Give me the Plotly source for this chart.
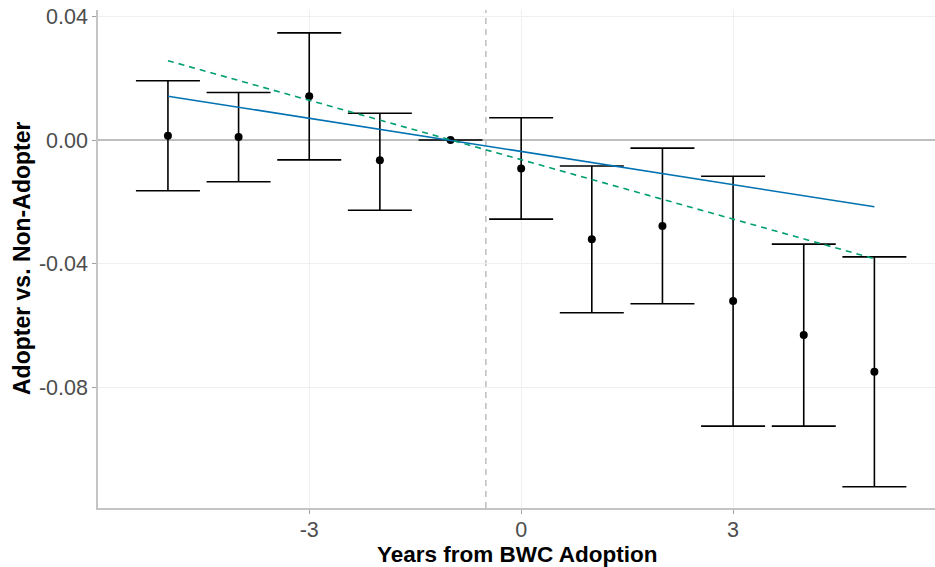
import plotly.graph_objects as go

years = [-5, -4, -3, -2, -1, 0, 1, 2, 3, 4, 5]
estimate = [0.0014, 0.0010, 0.0142, -0.0065, 0.0, -0.0092, -0.0321, -0.0278, -0.0521, -0.0631, -0.0750]
ci_upper = [0.0192, 0.0154, 0.0347, 0.0087, 0.0, 0.0072, -0.0084, -0.0026, -0.0117, -0.0337, -0.0378]
ci_lower = [-0.0164, -0.0135, -0.0064, -0.0227, 0.0, -0.0256, -0.0559, -0.0530, -0.0926, -0.0926, -0.1122]

trend_x = [-5, 5]
trend_linear = [0.0142, -0.0216]
trend_dashed = [0.0257, -0.0384]

x_ticks = [-3, 0, 3]
x_ticktext = ["-3", "0", "3"]
y_ticks = [0.04, 0.0, -0.04, -0.08]
y_ticktext = ["0.04", "0.00", "-0.04", "-0.08"]

err_plus = [u - e for u, e in zip(ci_upper, estimate)]
err_minus = [e - l for e, l in zip(estimate, ci_lower)]

fig = go.Figure()
fig.add_trace(go.Scatter(
    x=years, y=estimate, mode="markers",
    marker=dict(color="black", size=8),
    error_y=dict(type="data", symmetric=False, array=err_plus, arrayminus=err_minus,
                 color="black", thickness=1.6, width=32),
    showlegend=False, hoverinfo="skip",
))
fig.add_trace(go.Scatter(
    x=trend_x, y=trend_linear, mode="lines",
    line=dict(color="#0072B2", width=1.6), showlegend=False,
))
fig.add_trace(go.Scatter(
    x=trend_x, y=trend_dashed, mode="lines",
    line=dict(color="#009E73", width=1.6, dash="6px,5px"), showlegend=False,
))

fig.add_shape(type="line", xref="x", yref="paper", x0=-0.5, x1=-0.5, y0=0, y1=1,
              line=dict(color="#bebebe", width=1.5, dash="6px,5px"), layer="below")

font_family = "Liberation Sans, Arial, sans-serif"
fig.update_layout(
    width=935, height=567,
    margin=dict(l=98, r=0, t=10, b=59),
    paper_bgcolor="white", plot_bgcolor="white",
    font=dict(family=font_family),
    showlegend=False,
)
fig.add_annotation(
    text="<b>Adopter vs. Non-Adopter</b>", xref="paper", yref="paper",
    x=0, y=0.5, xanchor="center", yanchor="middle", xshift=-76, textangle=-90,
    showarrow=False, font=dict(size=23, color="black", family=font_family),
)
fig.add_annotation(
    text="<b>Years from BWC Adoption</b>", xref="paper", yref="paper",
    x=0.5, y=0, xanchor="center", yanchor="middle", yshift=-46, borderpad=0,
    showarrow=False, font=dict(size=22.5, color="black", family=font_family),
)
fig.update_xaxes(
    range=[-5.99, 5.858], tickvals=x_ticks, ticktext=x_ticktext,
    ticks="outside", ticklen=4, tickwidth=1, tickcolor="#a0a0a0",
    tickfont=dict(size=21.5, color="#4d4d4d", family=font_family),
    ticklabelstandoff=-3,
    showgrid=True, gridcolor="#efefef", gridwidth=1,
    zeroline=False,
    showline=True, linecolor="#c4c4c4", linewidth=1.5,
    automargin=False,
)
fig.update_yaxes(
    range=[-0.1191, 0.0421], tickvals=y_ticks, ticktext=y_ticktext,
    ticks="outside", ticklen=4, tickwidth=1, tickcolor="#a0a0a0",
    tickfont=dict(size=21.5, color="#4d4d4d", family=font_family),
    showgrid=True, gridcolor="#efefef", gridwidth=1,
    zeroline=True, zerolinecolor="#bebebe", zerolinewidth=1.5,
    showline=True, linecolor="#c4c4c4", linewidth=1.5,
    automargin=False,
)

fig.write_html("out.html", config={"displayModeBar": False},
               post_script="document.body.style.margin='0';document.body.style.padding='0';")
